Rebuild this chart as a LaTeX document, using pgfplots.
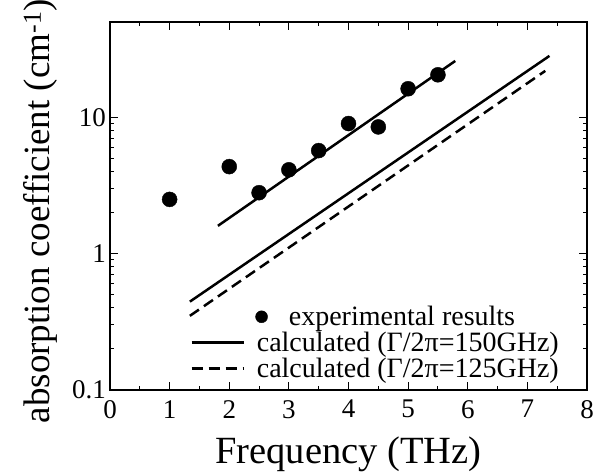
\documentclass[border=0pt]{standalone}
\usepackage{fontspec}
\setmainfont{Liberation Serif}
\usepackage{pgfplots}
\pgfplotsset{compat=1.18}
\pgfplotsset{
  markleg/.style={legend image code/.code={
    \path[draw=none, fill=none] (0pt,0pt) -- (52pt,0pt);
    \path[overlay, ##1, mark size=6pt] plot[only marks] coordinates {(70pt,0pt)};
  }},
  lineleg/.style={legend image code/.code={\draw[##1] (0pt,0pt) -- (52pt,0pt);}},
}
\begin{document}
\begin{tikzpicture}
\begin{axis}[
  name=ax,
  scale only axis,
  width=477pt, height=368pt,
  xmin=0, xmax=8, ymode=log, ymin=0.1, ymax=50,
  xtick={0,1,2,3,4,5,6,7,8}, minor x tick num=1,
  ytick={0.1,1,10}, yticklabels={0.1,1,10},
  tick align=inside,
  major tick length=8pt, minor tick length=4pt,
  axis line style={line width=1.6pt},
  every tick/.style={line width=1pt, black},
  tick label style={font=\fontsize{27}{27}\selectfont},
  xticklabel style={inner sep=0pt, yshift=-10pt},
  yticklabel style={inner sep=0pt, xshift=-4pt},
  /pgf/number format/assume math mode=true,
  xlabel={Frequency (THz)},
  ylabel={absorption coefficient (cm\textsuperscript{-1})},
  label style={font=\fontsize{37}{37}\selectfont},
  xlabel style={at={(axis description cs:0.5,-0.1984)}, anchor=base, font=\fontsize{38.5}{38.5}\selectfont},
  ylabel style={at={(axis description cs:-0.1258,0.486)}, anchor=base},
  legend cell align=left,
  legend style={draw=none, fill=none, inner sep=0pt, row sep=5pt,
    font=\fontsize{28}{28}\selectfont,
    at={(axis description cs:0.168,0.228)}, anchor=north west,
    nodes={inner sep=0pt},
    /tikz/every odd column/.append style={column sep=12pt}},
]
\addplot[only marks, mark=*, mark size=7.5pt, black, markleg] coordinates {
  (1,2.5) (2,4.35) (2.5,2.8) (3,4.12) (3.5,5.7) (4,9.0) (4.5,8.5) (5,16.2) (5.5,20.5)};
\addlegendentry{\hspace{32pt}experimental results}
\addplot[black, line width=2.5pt, forget plot] coordinates {(1.81,1.6) (5.79,25.9)};
\addplot[black, line width=2.5pt, lineleg] coordinates {(1.34,0.445) (7.37,28.2)};
\addlegendentry{calculated (Γ/2π=150GHz)}
\addplot[black, line width=2.5pt, dash pattern=on 11pt off 6pt, lineleg] coordinates {(1.34,0.35) (7.30,21.9)};
\addlegendentry{calculated (Γ/2π=125GHz)}
\end{axis}
\pgfresetboundingbox
\path[use as bounding box] ([xshift=-110pt,yshift=-84pt]ax.south west) rectangle ([xshift=12pt,yshift=22pt]ax.north east);
\end{tikzpicture}
\end{document}
